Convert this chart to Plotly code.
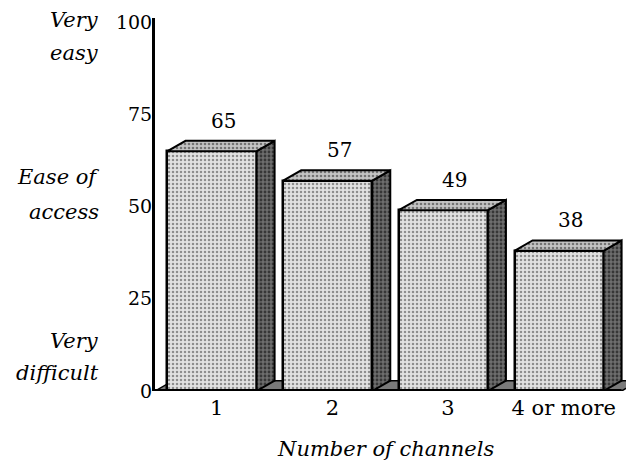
import plotly.graph_objects as go

# Survey results: perceived ease of access by number of channels
categories = ["1", "2", "3", "4 or more"]
ease_scores = [65, 57, 49, 38]
y_ticks = [0, 25, 50, 75, 100]

# Side labels for the rating scale: (line of text, y value)
scale_labels = [
    ("Very", 100.5), ("easy", 91.6),
    ("Ease of", 58.0), ("access", 48.5),
    ("Very", 13.5), ("difficult", 4.9),
]

SERIF = "DejaVu Serif"
BAR_W = 0.77      # front-face width (x units)
DX = 0.156        # 3D depth offset along x (x units)
DY = 2.8          # 3D depth offset along y (y units)
X_RANGE = [-0.493, 3.579]
Y_RANGE = [0, 101.1]

pos = list(range(len(categories)))

front_pattern = dict(shape=".", fgcolor="#3a3a3a", bgcolor="#e2e2e2", size=4, solidity=0.3)
top_pattern = dict(shape=".", fgcolor="#222222", bgcolor="#c4c4c4", size=4, solidity=0.35)
side_pattern = dict(shape=".", fgcolor="#000000", bgcolor="#6e6e6e", size=4, solidity=0.4)

fig = go.Figure()

# Front faces of the bars
fig.add_trace(go.Bar(
    x=pos, y=ease_scores, width=BAR_W,
    marker=dict(color="#d6d6d6", line=dict(color="black", width=2.5), pattern=front_pattern),
    hoverinfo="skip", showlegend=False,
))

# Top and side faces give each bar its depth
for i, v in zip(pos, ease_scores):
    x0, x1 = i - BAR_W / 2, i + BAR_W / 2
    fig.add_trace(go.Scatter(
        x=[x1, x1 + DX, x1 + DX, x1, x1], y=[v, v + DY, DY, 0, v],
        mode="lines", fill="toself", fillpattern=side_pattern, fillcolor="#555555",
        line=dict(color="black", width=2), hoverinfo="skip", showlegend=False,
    ))
    fig.add_trace(go.Scatter(
        x=[x0, x0 + DX, x1 + DX, x1, x0], y=[v, v + DY, v + DY, v, v],
        mode="lines", fill="toself", fillpattern=top_pattern, fillcolor="#aaaaaa",
        line=dict(color="black", width=2), hoverinfo="skip", showlegend=False,
    ))

# Floor under the bars and the heavy baseline
floor_left = X_RANGE[0]
floor_right = pos[-1] + BAR_W / 2 + DX
floor_path = (f"M {floor_left},0 L {floor_left + DX},{DY} "
              f"L {floor_right + DX},{DY} L {floor_right},0 Z")
shapes = [
    dict(type="path", path=floor_path, xref="x", yref="y", layer="below",
         fillcolor="#7a7a7a", line=dict(color="black", width=1.5)),
    dict(type="line", xref="x", yref="y", x0=floor_left, x1=floor_right, y0=0, y1=0,
         line=dict(color="black", width=4), layer="above"),
]

annotations = []
# Value labels above each bar
for i, v in zip(pos, ease_scores):
    annotations.append(dict(
        x=i + DX / 2 + 0.02, y=v + DY, xref="x", yref="y", text=str(v),
        showarrow=False, xanchor="center", yanchor="bottom", yshift=6,
        font=dict(family=SERIF, size=20, color="black"),
    ))

# Italic scale descriptions to the left of the axis
for text, yv in scale_labels:
    annotations.append(dict(
        x=-0.114, y=yv, xref="paper", yref="y", text=f"<i>{text}</i>",
        showarrow=False, xanchor="right", yanchor="middle",
        font=dict(family=SERIF, size=21, color="black"),
    ))

# X axis title
annotations.append(dict(
    x=0.49, y=-0.155, xref="paper", yref="paper", text="<i>Number of channels</i>",
    showarrow=False, xanchor="center", yanchor="middle",
    font=dict(family=SERIF, size=21, color="black"),
))

fig.update_layout(
    width=626, height=467,
    margin=dict(l=155, r=0, t=18, b=76),
    paper_bgcolor="white", plot_bgcolor="white",
    shapes=shapes, annotations=annotations,
    xaxis=dict(
        range=X_RANGE, tickvals=[p + 0.04 for p in pos], ticktext=categories,
        showgrid=False, zeroline=False, showline=False, ticks="",
        tickfont=dict(family=SERIF, size=21, color="black"),
        ticklabelstandoff=2,
    ),
    yaxis=dict(
        range=Y_RANGE, tickvals=y_ticks, ticktext=[str(t) for t in y_ticks],
        showgrid=False, zeroline=False, showline=True, linecolor="black", linewidth=3,
        ticks="", tickfont=dict(family=SERIF, size=19, color="black"),
        ticklabelstandoff=-4,
    ),
    bargap=0,
)

fig.write_html("out.html", config={"displayModeBar": False})
